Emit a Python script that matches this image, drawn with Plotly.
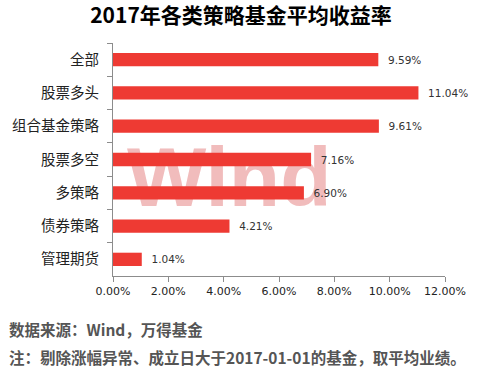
import plotly.graph_objects as go

categories = ["全部", "股票多头", "组合基金策略", "股票多空", "多策略", "债券策略", "管理期货"]
returns = [9.59, 11.04, 9.61, 7.16, 6.90, 4.21, 1.04]
x_ticks = [0, 2, 4, 6, 8, 10, 12]
x_tick_labels = ["0.00%", "2.00%", "4.00%", "6.00%", "8.00%", "10.00%", "12.00%"]

title_text = "2017年各类策略基金平均收益率"
source_text = "数据来源：Wind，万得基金"
note_text = "注：剔除涨幅异常、成立日大于2017-01-01的基金，取平均业绩。"

fig = go.Figure()
fig.add_trace(go.Bar(
    y=categories, x=returns, orientation="h",
    marker=dict(color="#EE3A33", line=dict(width=0)),
    width=0.4,
    text=[f"\u00a0\u00a0{v:.2f}%" for v in returns],
    textposition="outside",
    textfont=dict(family="DejaVu Sans", size=10.5, color="#333333"),
    cliponaxis=False,
    hoverinfo="skip",
))

fig.update_layout(
    width=482, height=369,
    margin=dict(l=113, r=37, t=43, b=93, autoexpand=False),
    paper_bgcolor="white", plot_bgcolor="white",
    showlegend=False,
    title=dict(text=title_text, x=0.5, xanchor="center", y=1 - 16 / 369, yanchor="middle",
               font=dict(family="Noto Sans CJK SC", size=21, color="#000000", weight="bold")),
    xaxis=dict(range=[0, 12], tickmode="array", tickvals=x_ticks, ticktext=x_tick_labels,
               showgrid=False, zeroline=False, showline=True, linecolor="#8c8c8c", linewidth=1,
               ticks="outside", ticklen=5, tickcolor="#8c8c8c",
               tickfont=dict(family="DejaVu Sans", size=11, color="#222222")),
    yaxis=dict(autorange="reversed", showgrid=False, zeroline=False, showline=True,
               linecolor="#8c8c8c", linewidth=1, ticks="outside", ticklen=5, tickcolor="#8c8c8c",
               tickson="boundaries", ticklabelstandoff=10,
               tickfont=dict(family="Noto Sans CJK SC", size=14.5, color="#222222")),
    shapes=[dict(type="rect", xref="paper", yref="paper", x0=0.06, x1=0.64, y0=0.32, y1=0.6,
                 line=dict(width=0), fillcolor="rgba(0,0,0,0)", layer="below",
                 label=dict(text="Wind", font=dict(family="Liberation Sans", size=84,
                                                  color="rgb(241,188,188)", weight="bold"),
                            textposition="middle center"))],
    annotations=[
        dict(text=source_text, xref="paper", yref="paper", x=-106 / 332, y=-(329 - 276) / 233,
             xanchor="left", yanchor="middle", showarrow=False,
             font=dict(family="Noto Sans CJK SC", size=15.5, color="#555555", weight="bold")),
        dict(text=note_text, xref="paper", yref="paper", x=-106 / 332, y=-(357 - 276) / 233,
             xanchor="left", yanchor="middle", showarrow=False,
             font=dict(family="Noto Sans CJK SC", size=15.5, color="#555555", weight="bold")),
    ],
)

fig.write_html("out.html", config={"displayModeBar": False},
               post_script="document.body.style.margin='0';document.body.style.padding='0';document.documentElement.style.overflow='hidden';")
